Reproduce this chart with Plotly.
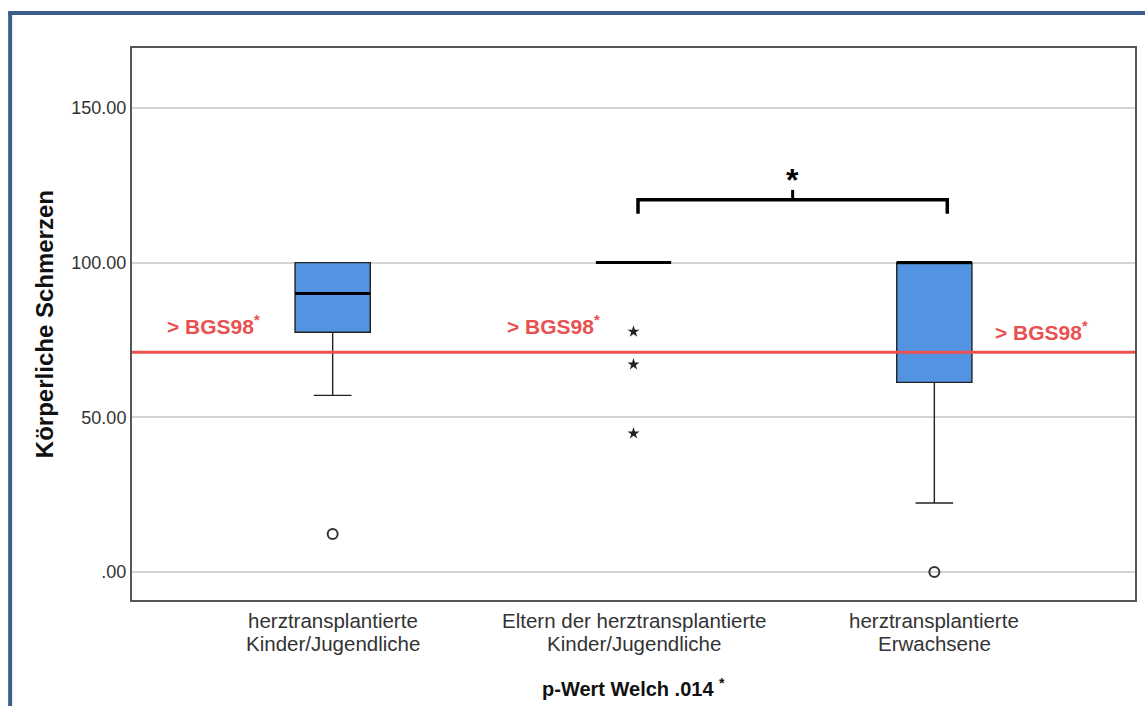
import plotly.graph_objects as go

categories = ["herztransplantierte<br>Kinder/Jugendliche",
              "Eltern der herztransplantierte<br>Kinder/Jugendliche",
              "herztransplantierte<br>Erwachsene"]
q1 = [77.5, 100, 61.3]
median = [90, 100, 100]
q3 = [100, 100, 100]
lower_whisker = [57.1, 100, 22.3]
upper_whisker = [100, 100, 100]
circle_outliers_x = [0, 2]
circle_outliers_y = [12.3, 0]
star_outliers_x = [1, 1, 1]
star_outliers_y = [77.7, 67.1, 44.8]
bgs98_norm = 71.0
ytick_vals = [0, 50, 100, 150]
ytick_text = [".00", "50.00", "100.00", "150.00"]
bracket_y = 120.3
bracket_drop = 115.8
bracket_tick = 123.5
bracket_groups = [1, 2]
y_title = "Körperliche Schmerzen"
x_title = "p-Wert Welch .014 <sup>*</sup>"

FONT = "Liberation Sans, Arial"
xs = list(range(len(categories)))
box_w = 0.25
fig = go.Figure()
fig.add_trace(go.Box(
    x=xs, q1=q1, median=median, q3=q3, lowerfence=lower_whisker, upperfence=upper_whisker,
    width=box_w, whiskerwidth=0.5, fillcolor="#5294e2",
    line=dict(color="#222222", width=1.4), boxpoints=False, showlegend=False))
for i, m in enumerate(median):
    fig.add_shape(type="line", x0=i - box_w / 2, x1=i + box_w / 2, y0=m, y1=m,
                  line=dict(color="black", width=3))
fig.add_trace(go.Scatter(x=circle_outliers_x, y=circle_outliers_y, mode="markers",
                         marker=dict(symbol="circle-open", size=10, color="#333333",
                                     line=dict(width=2)), showlegend=False))
fig.add_trace(go.Scatter(x=star_outliers_x, y=star_outliers_y, mode="markers",
                         marker=dict(symbol="star", size=9, color="#222222"), showlegend=False))
fig.add_shape(type="line", xref="paper", x0=0, x1=1, y0=bgs98_norm, y1=bgs98_norm,
              line=dict(color="#ee5050", width=3))
for xp, yv in [(-0.395, 79.7), (0.734, 79.7), (2.355, 78.0)]:
    fig.add_annotation(x=xp, y=yv, text="> BGS98<sup>*</sup>", showarrow=False,
                       font=dict(family=FONT, size=21, color="#e8514f", weight="bold"))
a, b = bracket_groups[0] + 0.015, bracket_groups[1] + 0.043
fig.add_trace(go.Scatter(x=[a, a, b, b], y=[bracket_drop, bracket_y, bracket_y, bracket_drop],
                         mode="lines", line=dict(color="black", width=3.5), showlegend=False))
mid = (a + b) / 2
fig.add_trace(go.Scatter(x=[mid, mid], y=[bracket_y, bracket_tick], mode="lines",
                         line=dict(color="black", width=3), showlegend=False))
fig.add_annotation(x=mid, y=bracket_tick, text="<b>*</b>", showarrow=False, yanchor="bottom",
                   yshift=-10, font=dict(family=FONT, size=32, color="black"))
for i, c in enumerate(categories):
    for j, line in enumerate(c.split("<br>")):
        fig.add_annotation(x=i, xref="x", yref="paper", y=-0.038 - j * 0.0399, text=line,
                           showarrow=False, yanchor="middle",
                           font=dict(family=FONT, size=20.5, color="#333333"))
fig.add_annotation(xref="paper", yref="paper", x=0.5, y=-0.158, text="<b>" + x_title + "</b>",
                   showarrow=False, yanchor="middle", font=dict(family=FONT, size=20, color="#111111"))
fig.add_annotation(xref="paper", yref="paper", x=-0.0876, y=0.5, text="<b>" + y_title + "</b>",
                   textangle=-90, showarrow=False, xanchor="center",
                   font=dict(family=FONT, size=24, color="#111111"))
fig.add_shape(type="line", xref="paper", yref="paper", x0=-0.1215, x1=-0.1215, y0=1.0634, y1=-0.2,
              line=dict(color="#3a5f8c", width=4))
fig.add_shape(type="line", xref="paper", yref="paper", x0=-0.1235, x1=1.02, y0=1.0634, y1=1.0634,
              line=dict(color="#3a5f8c", width=4))

fig.update_layout(
    width=1145, height=706, margin=dict(l=132, r=8, t=48, b=106),
    paper_bgcolor="white", plot_bgcolor="white",
    font=dict(family=FONT, color="#222222"),
    xaxis=dict(range=[-0.667, 2.667], tickvals=xs, ticktext=["" for _ in xs], showgrid=False,
               zeroline=False, showline=True, mirror=True, linecolor="#555555", linewidth=2,
               ticks=""),
    yaxis=dict(range=[-9.03, 169.35], tickvals=ytick_vals, ticktext=ytick_text, showgrid=True,
               gridcolor="#d3d3d3", gridwidth=2, zeroline=False, showline=True, mirror=True,
               linecolor="#555555", linewidth=2, ticks="", tickfont=dict(size=18, color="#333333")),
)
fig.write_html("out.html")
